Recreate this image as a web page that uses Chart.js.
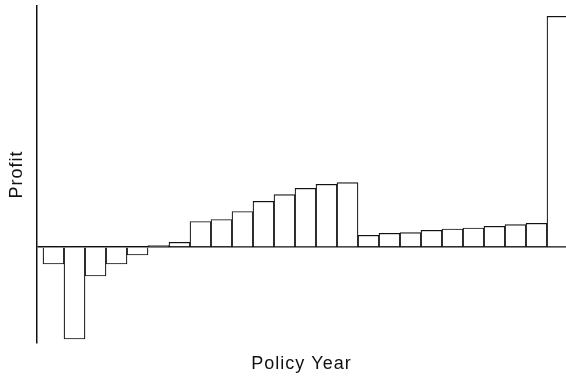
<!DOCTYPE html>
<html>
<head>
<meta charset="utf-8">
<script src="https://cdn.jsdelivr.net/npm/chart.js@4/dist/chart.umd.min.js"></script>
<style>
  html, body { margin: 0; padding: 0; background: #fff; }
  #wrap { width: 566px; height: 377px; position: relative; }
</style>
</head>
<body>
<div id="wrap"><canvas id="c"></canvas></div>
<script>
// Policy years (categories)
const policyYears = [1,2,3,4,5,6,7,8,9,10,11,12,13,14,15,16,17,18,19,20,21,22,23,24,25];
// Profit per policy year (relative units; no tick labels in source)
const profit = [-17, -92, -29, -17, -8, 1.3, 4.7, 25.5, 27.5, 35.5, 45.7, 52.4, 58.7, 62.7, 64.4,
                11.7, 13.7, 14.4, 16.7, 18, 19, 20.7, 22.4, 23.7, 230.7];
// Axis titles
const xTitle = 'Policy Year';
const yTitle = 'Profit';

const points = policyYears.map((yr, i) => ({ x: yr, y: profit[i] }));

const letterSpacingPlugin = {
  id: 'letterSpacing',
  beforeDraw(chart) { chart.ctx.letterSpacing = '1px'; }
};

new Chart(document.getElementById('c'), {
  type: 'bar',
  data: {
    datasets: [{
      data: points,
      backgroundColor: '#ffffff',
      borderColor: '#111111',
      borderWidth: 1.2,
      barPercentage: 1,
      categoryPercentage: 1
    }]
  },
  options: {
    responsive: true,
    maintainAspectRatio: false,
    animation: false,
    devicePixelRatio: 1,
    layout: { padding: { top: 6, right: 0, bottom: 0, left: 0 } },
    plugins: { legend: { display: false }, tooltip: { enabled: false } },
    scales: {
      x: {
        type: 'linear',
        offset: false,
        min: 0.214,
        max: 25.405,
        ticks: { display: false },
        grid: { display: false },
        border: { display: false },
        title: {
          display: true,
          text: xTitle,
          color: '#111',
          font: { family: 'Liberation Sans', size: 18 },
          padding: { top: 0, bottom: 2 }
        },
        afterFit(s) { s.height = 34; }
      },
      y: {
        min: -96,
        max: 241,
        ticks: { display: false },
        afterBuildTicks(s) { s.ticks = [{ value: 0 }]; },
        grid: {
          color: '#111',
          lineWidth: 1.5,
          drawTicks: false
        },
        border: { display: true, color: '#111', width: 1.5 },
        title: {
          display: true,
          text: yTitle,
          color: '#111',
          font: { family: 'Liberation Sans', size: 18 },
          padding: { top: 6, bottom: 0 }
        },
        afterFit(s) { s.width = 37; }
      }
    }
  },
  plugins: [letterSpacingPlugin]
});
</script>
</body>
</html>
